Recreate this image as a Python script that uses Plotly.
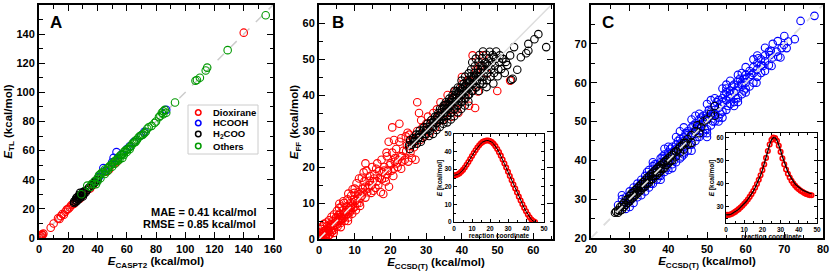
import plotly.graph_objects as go

W, H = 830, 272
FONT = "Liberation Sans, Arial, Helvetica, sans-serif"

# ---------------- Panel A data (E_CASPT2, E_TL) ----------------
a_dioxirane = [(0, 0), (0.5, 0.3), (1, 1), (1.5, 1.2), (2, 2.5), (3, 3), (2.5, 2), (8, 7), (10, 10),
               (13, 13.5), (14, 13), (15, 15), (16, 16.5), (17, 16), (18, 18), (19, 19.5), (20, 20),
               (21, 21), (22, 22.5), (23, 23), (24, 23.5), (25, 25), (28, 27), (30, 29.5), (31, 31),
               (33, 33), (35, 34), (37, 36.5), (46, 45.5), (48, 47), (51, 51), (53, 52), (140, 141)]
a_hcooh = [(38, 38.5), (41, 42), (44, 48), (45, 46), (50, 52), (51, 55), (53, 59), (56, 57), (60, 61),
           (62, 63), (65, 66), (70, 70.5), (72, 73), (87, 88)]
a_h2coo = [(24, 25), (25, 24.5), (25, 26), (26, 25.5), (26, 27), (27, 26.5), (27, 28), (28, 27.5),
           (28, 29), (29, 28.5), (29, 30), (30, 30), (30, 31.5), (31, 30.5), (31, 32), (32, 31.5),
           (33, 33), (34, 34.5), (35, 35), (36, 36), (37, 37.5), (38, 38), (39, 39.5), (40, 40),
           (26, 28), (28, 31), (30, 28.5), (24, 24), (25.5, 27.5), (27.5, 29.5)]
a_others = [(29, 30), (33, 36), (36, 37), (38, 39), (40, 41), (41, 43), (42, 44), (43, 45), (44, 45),
            (45, 47), (46, 46), (47, 48), (48, 49), (49, 50), (50, 51), (51, 52), (52, 53), (53, 53.5),
            (54, 55), (55, 56), (56, 57), (57, 57.5), (58, 59), (59, 60), (60, 60.5), (61, 61.5),
            (62, 62.5), (63, 63), (64, 65), (65, 65.5), (66, 67), (67, 67.5), (68, 69), (69, 70),
            (70, 70.5), (71, 71), (73, 73), (74, 75), (75, 76), (77, 77), (79, 79), (80, 80), (82, 83),
            (83, 84), (84, 86), (85, 85), (85, 87), (86, 88), (87, 86), (93, 93), (107, 108),
            (108, 108.5), (110, 110), (114, 115), (115, 117), (129, 129), (155, 153), (47, 46),
            (50, 49), (55, 54), (57, 55), (60, 59), (52, 51), (45, 44), (42, 41), (40, 39), (35, 35),
            (39, 37), (54, 53), (58, 57), (62, 61), (66, 66), (72, 72)]
a_diag = [0, 160]

# ---------------- Panel B data (E_CCSD(T), E_FF) ----------------
b_red = [(0.2, 0.5), (0.5, 0.2), (0.8, 1.2), (1, 0.3), (1.2, 2), (1.5, 1), (1.8, 0.5), (2, 2.5),
         (2.2, 1.5), (2.5, 3), (2.8, 2), (3, 1.2), (3, 4), (0.3, 1.5), (0.6, 2.8), (1, 3.5), (1.4, 4.2),
         (0.1, 0.1), (0.4, 0), (2, 0.8), (2.6, 0.9), (3.3, 2.6), (3.5, 3.8), (3.8, 5), (4, 3), (4.2, 2.5),
         (4.5, 4.5), (4.8, 6), (5, 4), (5.2, 3.5), (5.5, 5.5), (5.8, 7), (6, 5), (6.2, 4.5), (6.5, 6.5),
         (6.8, 8), (7, 6), (7.2, 5), (7.5, 7.5), (7.8, 9), (8, 7), (8.2, 6), (8.5, 8.5), (8.8, 10),
         (9, 8), (9.3, 7), (9.5, 9.5), (9.8, 11), (10, 9), (10.3, 8), (3.5, 6.2), (5, 7.8), (6.3, 9),
         (7, 10), (8, 11), (9, 12), (10, 14), (10.5, 15.5), (11, 13), (11.3, 10), (11.6, 11.5),
         (12, 12), (12.3, 14), (12.7, 16), (12, 17), (13, 21), (13.3, 19), (13.5, 13), (14, 15),
         (14.3, 17.5), (14.6, 12.8), (15, 16), (15.5, 18), (15.8, 14.2), (16, 19.5), (16.3, 21),
         (16.6, 15), (17, 17), (17.3, 13), (17.5, 22), (17.8, 18.5), (18, 12.5), (18.3, 20), (18.7, 16),
         (19, 23), (19.3, 19), (19.6, 14.5), (20, 21), (20.5, 31), (20.5, 24), (20.8, 17.5), (21, 19.5),
         (21.3, 22.5), (21.6, 25), (22, 20), (22.5, 32), (22.5, 27), (22.8, 23), (23, 19.5),
         (23.3, 21.5), (23.6, 24.5), (24, 22), (24.3, 28.5), (24.6, 26), (25, 21.5), (25.3, 29),
         (25.6, 24), (26, 22.5), (26.3, 27), (26.6, 25.5), (27, 22), (27.5, 38), (28, 35), (27.5, 30),
         (28.3, 27.5), (28.6, 33), (29, 31), (29.5, 28.5), (30, 32), (30.5, 34), (31, 29.5), (31.5, 33),
         (32, 35), (32.5, 31), (33, 36), (33.5, 34), (34, 38), (34.5, 33), (35, 37), (35.5, 35),
         (36, 40), (36.5, 37), (37, 34), (37.5, 39), (38, 41), (38.5, 36), (39, 38), (40, 43), (41, 40),
         (42, 44), (43, 51), (44, 47), (45, 48), (46, 51), (43.7, 36.4), (49.9, 41.1), (53.5, 44),
         (47, 46), (44.5, 41), (42, 37), (40, 45), (39, 35), (1.6, 2.2), (2.3, 3.6), (3.6, 2), (4.4, 5.4),
         (5.4, 6.6), (6.6, 5.6), (7.6, 6.6), (8.6, 7.4), (9.6, 8.6), (10.8, 11.8), (11.5, 9.2),
         (13, 11.5), (14.2, 16.2), (15.2, 13.4), (16.8, 18.8), (18.5, 17), (19.8, 20.5), (21.8, 21),
         (5.6, 8.6), (6.8, 10.5), (8.2, 12.6), (9.4, 13.8), (11.2, 16.8), (4.2, 6.8), (2.8, 5.2),
         (0.7, 0.9), (1.3, 1.6), (1.9, 1.1), (2.4, 2.2), (3.1, 3.3), (3.9, 3.6), (4.6, 4), (5.3, 5),
         (5.9, 6), (6.4, 5.8), (7.1, 7), (7.7, 8), (8.3, 8), (8.9, 9), (9.4, 10.2), (10.1, 10.5),
         (10.7, 10), (11.4, 12.5), (12.2, 13), (12.9, 14.5), (13.6, 14), (14.8, 15), (15.4, 16.8),
         (16.2, 16), (17.6, 16.6), (18.2, 19), (19.1, 18), (20.3, 19), (21.2, 21.5), (22.2, 22),
         (23.2, 23), (24.4, 24.4), (25.5, 26), (26.5, 27.5), (2.1, 4.6), (4.1, 1.7), (6.1, 3.3),
         (8.1, 5), (0.9, 2.1), (5.7, 9.8), (9.9, 12.8), (12.5, 18.5), (14.9, 20), (18.9, 24), (19.5, 27),
         (23, 28), (24.8, 29.5), (21, 27.5)]
b_black = [(25.2, 26), (25.5, 27.4), (25.4, 25), (26, 26.2), (26.3, 28), (26.6, 27), (27, 27.2),
           (27.2, 29), (27.4, 26.5), (27.8, 28.1), (28, 28.3), (28.2, 30.1), (28.5, 27), (28.8, 29.5),
           (29, 28.1), (29.2, 30.2), (29.4, 31), (29.7, 29.2), (30, 29.1), (30.2, 31.1), (30.3, 32),
           (30.6, 30.5), (30.8, 28.6), (31, 30.1), (31.2, 32.2), (31.4, 33), (31.7, 31.3), (31.9, 29.2),
           (32, 31.1), (32.3, 33.1), (32.5, 34), (32.7, 32.2), (32.9, 30.3), (33, 32.2), (33.2, 34.2),
           (33.4, 35), (33.6, 33.1), (33.8, 31.1), (33.9, 36.2), (34, 33.2), (34.2, 35.1), (34.4, 36),
           (34.6, 34.2), (34.8, 32), (34.9, 37.1), (35, 33.1), (35.2, 35.2), (35.3, 37.2), (35.5, 38),
           (35.6, 36.1), (35.8, 34.2), (35.9, 32.4), (36, 34.2), (36.2, 36.3), (36.3, 38.1), (36.5, 39),
           (36.6, 37.2), (36.8, 35), (36.9, 33.2), (37, 35.1), (37.1, 37.2), (37.3, 39.1), (37.4, 40),
           (37.6, 38.1), (37.7, 36.2), (37.8, 34.1), (37.9, 41.2), (38, 36.1), (38.2, 38.2), (38.3, 40.1),
           (38.5, 41), (38.6, 39.2), (38.7, 37.1), (38.8, 35.2), (38.9, 42.1), (39, 37.2), (39.2, 39.1),
           (39.3, 41.2), (39.5, 42), (39.6, 40.1), (39.7, 38.2), (39.8, 36.1), (39.9, 44), (40, 38.1),
           (40.2, 40.2), (40.3, 42.1), (40.5, 43.1), (40.6, 41.1), (40.7, 39.2), (40.8, 37.1),
           (40.9, 45.1), (41, 39.1), (41.2, 41.1), (41.3, 43.2), (41.5, 44.1), (41.6, 42.2), (41.7, 40),
           (41.8, 38.2), (41.9, 46), (42, 40.1), (42.2, 42.2), (42.3, 44.1), (42.5, 45.2), (42.6, 47.1),
           (42.7, 43), (42.8, 41.2), (42.9, 49.1), (43, 41.1), (43.2, 43.2), (43.3, 45.1), (43.5, 46.2),
           (43.6, 48), (43.7, 44.1), (43.8, 42.2), (43.9, 50.1), (44, 42.1), (44.2, 44), (44.3, 46.1),
           (44.5, 47.2), (44.6, 49.1), (44.7, 45.2), (44.8, 41.1), (44.9, 51.1), (45, 43.2), (45.2, 45.1),
           (45.3, 47), (45.5, 48.1), (45.6, 50.2), (45.7, 44.1), (45.9, 52.1), (46, 43.1), (46.2, 45.2),
           (46.4, 47.1), (46.6, 49), (46.8, 51.2), (46.9, 42.2), (47, 44.1), (47.2, 46.2), (47.4, 48.1),
           (47.6, 50.2), (47.8, 52), (48, 45.1), (48.2, 47.2), (48.4, 49.1), (48.6, 51.1), (48.8, 43.2),
           (49, 46.1), (49.2, 48.2), (49.4, 50), (49.6, 52.1), (50, 45.2), (50.2, 47.1), (50.4, 49.2),
           (50.6, 51), (51, 47.2), (51.3, 50.1), (52, 46.1), (52.3, 49.2), (51.6, 50), (52.7, 48.3),
           (53.8, 44.2), (54.2, 44.5), (55.5, 47), (54.6, 53.3), (58, 51.6), (58.6, 52.3), (58.6, 54.2),
           (60.3, 55.5), (61.4, 56.9), (63.6, 53.3), (56.5, 50.5), (53.5, 51), (33, 33.8), (35, 36.4),
           (37, 38.6), (39, 40.6), (41, 42.6), (43, 44.6), (45, 46.4), (47, 48.6), (49, 50.6), (46, 48),
           (44, 45.4), (42, 43.5), (40, 41.6), (38, 39.5), (36, 37.5), (34, 34.5), (32, 32.5), (30, 30.3),
           (28, 29), (26.8, 27.8)]
b_diag_low = [0, 25]
b_diag_high = [25, 65]

# ---------------- Panel C data (E_CCSD(T), E) ----------------
c_blue = [(27, 28.5), (28, 30), (28, 31), (29, 30.5), (29, 27.5), (30, 32), (30, 28), (31, 33), (31, 29),
          (32, 34), (32, 30.5), (33, 35), (33, 31), (34, 36), (34, 32), (34.5, 37), (35, 37.5), (35, 33),
          (35.5, 34), (36, 38.5), (36, 34), (36.5, 39), (37, 39), (37, 35), (37.5, 36), (38, 40.5),
          (38, 36), (38.5, 41), (39, 41.5), (39, 37), (39.5, 38), (40, 42), (40, 37.5), (40.5, 43),
          (41, 43.5), (41, 39), (41.5, 40), (42, 44), (42, 39.5), (42.5, 45), (43, 45.5), (43, 40.5),
          (43.5, 41), (44, 46), (44, 42), (44.5, 47), (45, 47.5), (45, 42.5), (45.5, 44), (46, 48.5),
          (46, 44), (46.5, 49), (47, 49.5), (47, 45), (47.5, 46), (48, 50.5), (48, 46), (48.5, 51),
          (49, 51.5), (49, 47), (49.5, 48), (50, 52), (50, 48), (50.5, 53), (51, 52.5), (51, 49),
          (51.5, 50), (52, 54), (52, 50), (52.5, 55), (53, 55.5), (53, 51), (53.5, 52), (54, 56),
          (54, 52.5), (54.5, 57), (55, 57.5), (55, 53), (55.5, 54), (56, 58), (56, 54.5), (56.5, 59),
          (57, 59.5), (57, 55), (57.5, 56), (58, 60.5), (58, 56), (58.5, 61), (59, 60), (59, 57),
          (59.5, 58), (60, 62), (60, 58.5), (61, 63), (61, 59), (62, 64), (62, 60), (62.8, 60), (63, 65),
          (63, 61.5), (63.3, 66.3), (64, 66), (64, 62.5), (64.5, 64.3), (65, 67), (65, 63), (66, 68),
          (66.5, 68.2), (66.3, 67.1), (66.7, 64.3), (67, 66.5), (68, 68), (68.3, 70.7), (68.4, 66.7),
          (69.3, 68.9), (69.9, 69.7), (70.6, 68.9), (71, 70.6), (72.7, 71.2), (74.2, 75.9), (77.8, 77.2),
          (28.5, 29), (30.5, 30), (32.5, 33.5), (33.5, 33), (35.5, 36.5), (37.5, 38.5), (39.5, 40),
          (41.5, 42.5), (43.5, 44.5), (45.5, 46), (47.5, 48.5), (49.5, 50.5), (51.5, 52), (53.5, 54.5),
          (55.5, 56.5), (57.5, 58), (59.5, 61), (61.5, 62), (44, 48.5), (46, 50.5), (50, 54.5),
          (55, 59.5), (58, 62), (60, 64), (62, 66), (36, 39.5), (40, 43.5), (42, 46), (48, 52),
          (52, 56), (54, 58.5), (56, 60.5), (38, 35), (41, 38), (44, 41.5), (50, 47), (53, 50),
          (57, 54), (60, 57.5), (30, 31), (32, 33), (34, 35), (36, 37), (38, 39.5), (40, 41), (42, 43),
          (44, 45), (46, 47), (48, 49), (50, 51), (52, 53), (54, 55), (56, 57), (58, 59), (60, 61),
          (62, 62.5), (64, 64.5), (31, 32), (33, 34), (35, 36), (37, 38), (39, 40.5), (41, 42), (43, 44),
          (45, 46.5), (47, 48), (49, 49.5), (51, 51.5), (53, 53.5), (55, 55.5), (57, 57.5), (59, 59.5),
          (61, 61.5), (63, 63.5), (65, 65.5), (36, 36), (40, 39.5), (44, 43.5), (48, 47.5), (52, 52),
          (56, 56), (60, 60), (46, 42.5), (50, 46), (54, 51), (58, 55), (39, 43), (43, 47.5), (47, 51.5),
          (51, 55.5), (55, 58.5), (59, 62.5), (63, 67), (65, 69), (67, 70), (70, 72), (69, 66.5),
          (66, 64.5)]
c_black = [(26.2, 26.5), (26.5, 26.8), (27, 27.2), (27, 26.5), (27.5, 28), (27.5, 27), (28, 28.5),
           (28, 27.3), (28.5, 29), (28.5, 28), (29, 29.8), (29, 28.5), (29.5, 30), (29.5, 29), (30, 30.8),
           (30, 29.5), (30, 30), (30.5, 31.5), (30.5, 30.2), (31, 31.7), (31, 30.5), (31, 31),
           (31.5, 32.4), (31.5, 31), (32, 32.8), (32, 31.5), (32, 32), (32.5, 33.3), (32.5, 32),
           (33, 33.8), (33, 32.4), (33, 33), (33.5, 34.4), (33.5, 33), (34, 34.8), (34, 33.3), (34, 34),
           (34.5, 35.5), (34.5, 34), (35, 35.8), (35, 34.3), (35, 35), (35.5, 36.4), (35.5, 35),
           (36, 36.8), (36, 35.2), (36, 36), (36.5, 37.4), (36.5, 36), (37, 37.8), (37, 36.2), (37, 37),
           (37.5, 38.3), (37.5, 36.8), (38, 38.7), (38, 37.2), (38, 38), (38.5, 39.2), (38.5, 37.8),
           (39, 39.6), (39, 38.1), (39.5, 40), (39.5, 38.8), (40, 40.5), (40, 39.2), (40.5, 41),
           (40.5, 39.8), (41, 41.4), (41, 40), (41.5, 42), (42, 42.3), (42, 41), (42.5, 42.8), (43, 43.5),
           (43, 42), (43.5, 43.8), (44, 44.5), (44, 42.8), (44.5, 44.5), (45, 45.5), (45, 44), (46, 46.5),
           (46, 44.5), (47, 47.5), (47.5, 49), (48, 47), (48.5, 48.5), (49, 50), (50, 50.5), (51, 52),
           (52, 54), (52, 51.5)]
c_diag = [20, 80]

# ---------------- Insets (reaction profiles) ----------------
ib_coord = list(range(0, 46))
ib_energy = [26.5, 26.6, 27.0, 27.6, 28.5, 29.6, 31.0, 32.5, 34.1, 35.8, 37.5, 39.2, 40.8, 42.3, 43.6,
             44.7, 45.5, 46.0, 46.3, 46.3, 46.0, 45.4, 44.4, 43.1, 41.5, 39.7, 37.7, 35.5, 33.2, 30.9,
             28.5, 26.1, 23.7, 21.3, 19.0, 16.7, 14.4, 12.2, 10.1, 8.0, 6.1, 4.3, 2.7, 1.4, 0.5, 0.0]
ic_coord = list(range(0, 48))
ic_energy = [26.5, 26.5, 26.6, 26.9, 27.3, 27.8, 28.4, 29.0, 29.7, 30.5, 31.3, 32.2, 33.2, 34.3, 35.5,
             36.8, 38.3, 39.9, 41.7, 43.7, 45.9, 48.4, 51.2, 54.2, 57.0, 59.0, 60.0, 59.8, 58.6, 56.5,
             53.8, 51.0, 48.4, 46.2, 44.3, 42.7, 41.3, 40.1, 39.1, 38.3, 37.6, 37.0, 36.5, 36.0, 35.6,
             35.3, 35.1, 35.0]
ic_fit = [26.5, 26.5, 26.6, 26.9, 27.3, 27.8, 28.4, 29.0, 29.7, 30.5, 31.3, 32.2, 33.2, 34.3, 35.5,
          36.8, 38.3, 39.9, 41.7, 43.7, 45.9, 48.4, 51.2, 54.2, 57.0, 59.0, 60.0, 59.9, 58.9, 57.0,
          54.4, 51.7, 49.2, 47.0, 45.1, 43.5, 42.1, 40.9, 39.9, 39.1, 38.4, 37.8, 37.3, 36.9, 36.5,
          36.2, 35.9, 35.7]


def unz(pts):
    return [p[0] for p in pts], [p[1] for p in pts]


fig = go.Figure()


def scat(pts, color, xa, ya, size=7.5, width=1.1):
    x, y = unz(pts)
    fig.add_trace(go.Scatter(x=x, y=y, mode="markers", xaxis=xa, yaxis=ya, showlegend=False,
                             cliponaxis=True,
                             marker=dict(symbol="circle-open", size=size, color=color,
                                         line=dict(width=width, color=color))))


# Panel A
fig.add_trace(go.Scatter(x=a_diag, y=a_diag, mode="lines", xaxis="x", yaxis="y", showlegend=False,
                         line=dict(color="#cccccc", width=1.5, dash="dash")))
scat(a_dioxirane, "#ff0000", "x", "y")
scat(a_hcooh, "#0000ff", "x", "y")
scat(a_h2coo, "#000000", "x", "y")
scat(a_others, "#009900", "x", "y")

# Panel B
scat(b_red, "#ff0000", "x2", "y2")
scat(b_black, "#000000", "x2", "y2")
fig.add_trace(go.Scatter(x=b_diag_low, y=b_diag_low, mode="lines", xaxis="x2", yaxis="y2", showlegend=False,
                         line=dict(color="#eeeeee", width=1.5, dash="dash")))
fig.add_trace(go.Scatter(x=b_diag_high, y=b_diag_high, mode="lines", xaxis="x2", yaxis="y2", showlegend=False,
                         line=dict(color="#dddddd", width=1.5)))

# Panel C
scat(c_blue, "#0000ff", "x3", "y3")
scat(c_black, "#000000", "x3", "y3")
fig.add_trace(go.Scatter(x=c_diag, y=c_diag, mode="lines", xaxis="x3", yaxis="y3", showlegend=False,
                         line=dict(color="#dddddd", width=1.8, dash="dash")))

# Insets
fig.add_trace(go.Scatter(x=ib_coord, y=ib_energy, mode="markers", xaxis="x4", yaxis="y4", showlegend=False,
                         marker=dict(symbol="circle-open", size=4.5, color="#ff0000", line=dict(width=1.6))))
fig.add_trace(go.Scatter(x=ib_coord, y=ib_energy, mode="lines", xaxis="x4", yaxis="y4", showlegend=False,
                         line=dict(color="black", width=1)))
fig.add_trace(go.Scatter(x=ic_coord, y=ic_energy, mode="markers", xaxis="x5", yaxis="y5", showlegend=False,
                         marker=dict(symbol="circle-open", size=4.5, color="#ff0000", line=dict(width=1.6))))
fig.add_trace(go.Scatter(x=ic_coord, y=ic_fit, mode="lines", xaxis="x5", yaxis="y5", showlegend=False,
                         line=dict(color="black", width=1.2)))


def dx(a, b):
    return [a / W, b / W]


def dy(top, bot):
    return [1 - bot / H, 1 - top / H]


tickfont = dict(family=FONT, size=11, color="black", weight="bold")
titlefont = dict(family=FONT, size=11.5, color="black", weight="bold")


def main_ax(domain, rng, dtick, minor, anchor, title=None, standoff=1):
    d = dict(domain=domain, range=rng, dtick=dtick, tick0=0, ticks="inside", ticklen=6, tickwidth=1.3,
             tickcolor="black", minor=dict(dtick=minor, ticks="inside", ticklen=3.5, tickwidth=1.3,
                                           tickcolor="black"),
             showline=True, linewidth=2, linecolor="black", mirror="ticks", showgrid=False,
             zeroline=False, tickfont=tickfont, anchor=anchor, automargin=False, ticklabelstandoff=0)
    if title:
        d["title"] = dict(text=title, font=titlefont, standoff=standoff)
    return d


inset_tick = dict(family=FONT, size=6.5, color="black", weight="bold")
inset_title = dict(family=FONT, size=6.5, color="black", weight="bold")


def inset_ax(domain, rng, dtick, minor, anchor, title):
    return dict(domain=domain, range=rng, dtick=dtick, tick0=0, ticks="inside", ticklen=3, tickwidth=0.8,
                tickcolor="black", minor=dict(dtick=minor, ticks="inside", ticklen=1.8, tickwidth=0.8,
                                              tickcolor="black"),
                showline=True, linewidth=1, linecolor="black", mirror="ticks", showgrid=False,
                zeroline=False, tickfont=inset_tick, anchor=anchor, automargin=False, ticklabelstandoff=0,
                title=dict(text=title, font=inset_title, standoff=0))


fig.update_layout(
    width=W, height=H, margin=dict(l=0, r=0, t=0, b=0, autoexpand=False),
    paper_bgcolor="white", plot_bgcolor="white", showlegend=False,
    xaxis=main_ax(dx(39, 273), [0, 160], 20, 10, "y", "<i>E</i><sub>CASPT2</sub> (kcal/mol)"),
    yaxis=main_ax(dy(5, 238), [0, 160], 20, 10, "x", "<i>E</i><sub>TL</sub> (kcal/mol)"),
    xaxis2=main_ax(dx(319, 553), [0, 65.5], 10, 5, "y2", "<i>E</i><sub>CCSD(T)</sub> (kcal/mol)"),
    yaxis2=main_ax(dy(5, 239), [0, 65], 10, 5, "x2", "<i>E</i><sub>FF</sub> (kcal/mol)"),
    xaxis3=main_ax(dx(591, 823), [20, 80], 10, 5, "y3", "<i>E</i><sub>CCSD(T)</sub> (kcal/mol)"),
    yaxis3=main_ax(dy(5, 238), [20, 80], 10, 5, "x3"),
    xaxis4=inset_ax(dx(454, 544), [0, 50], 10, 5, "y4", "reaction coordinate"),
    yaxis4=inset_ax(dy(134, 222), [0, 50], 10, 5, "x4", "<i>E</i> [kcal/mol]"),
    xaxis5=inset_ax(dx(726, 817), [0, 50], 10, 5, "y5", "reaction coordinate"),
    yaxis5=inset_ax(dy(133, 223), [23, 62], 10, 5, "x5", "<i>E</i> [kcal/mol]"),
)

# white backgrounds of the insets (drawn in the inset subplot layer)
fig.add_shape(type="rect", xref="x4", yref="y4", x0=0, x1=50, y0=0, y1=50, layer="below",
              fillcolor="white", line=dict(width=0))
fig.add_shape(type="rect", xref="x5", yref="y5", x0=0, x1=50, y0=23, y1=62, layer="below",
              fillcolor="white", line=dict(width=0))

# Panel letters
for txt, xp in [("A", 56), ("B", 338), ("C", 608)]:
    fig.add_annotation(text=txt, xref="paper", yref="paper", x=xp / W, y=1 - 22 / H, showarrow=False,
                       xanchor="center", yanchor="middle",
                       font=dict(family=FONT, size=17, color="black", weight="bold"))

# MAE / RMSE
fig.add_annotation(text="MAE = 0.41 kcal/mol", xref="paper", yref="paper", x=258 / W, y=1 - 212 / H,
                   showarrow=False, xanchor="right", yanchor="middle",
                   font=dict(family=FONT, size=11, color="black", weight="bold"))
fig.add_annotation(text="RMSE = 0.85 kcal/mol", xref="paper", yref="paper", x=258 / W, y=1 - 223.5 / H,
                   showarrow=False, xanchor="right", yanchor="middle",
                   font=dict(family=FONT, size=11, color="black", weight="bold"))

# Manual legend for panel A
fig.add_shape(type="rect", xref="paper", yref="paper", x0=188 / W, x1=258 / W, y0=1 - 154 / H,
              y1=1 - 105 / H, line=dict(color="#cccccc", width=1), fillcolor="white", layer="above")
leg = [("Dioxirane", "#ff0000", 112.5), ("HCOOH", "#0000ff", 123), ("H<sub>2</sub>COO", "#000000", 134),
       ("Others", "#009900", 146)]
for name, col, yy in leg:
    fig.add_shape(type="circle", xref="paper", yref="paper", x0=195.5 / W, x1=201 / W,
                  y0=1 - (yy + 2.7) / H, y1=1 - (yy - 2.7) / H, line=dict(color=col, width=1.5),
                  layer="above")
    fig.add_annotation(text=name, xref="paper", yref="paper", x=211 / W, y=1 - yy / H, showarrow=False,
                       xanchor="left", yanchor="middle",
                       font=dict(family=FONT, size=9.5, color="black", weight="bold"))

fig.write_html("out.html", config={"displayModeBar": False},
               post_script="document.body.style.margin='0';document.body.style.overflow='hidden';")
